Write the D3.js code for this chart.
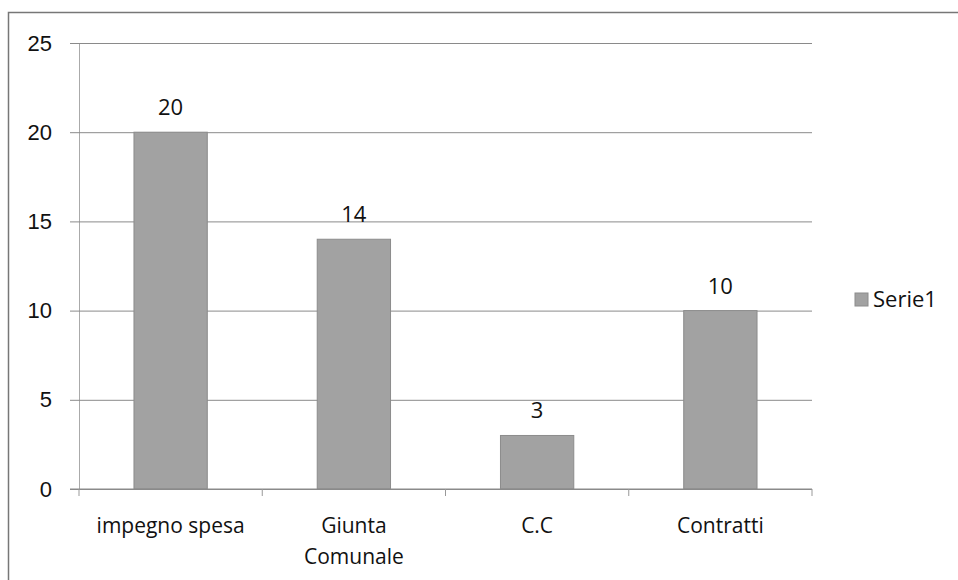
<!DOCTYPE html>
<html>
<head>
<meta charset="utf-8">
<script src="https://cdn.jsdelivr.net/npm/d3@7"></script>
<style>
  body { margin: 0; background: #fff; }
  svg { font-family: "Open Sans", "DejaVu Sans", sans-serif; }
</style>
</head>
<body>
<div id="chartContainer"></div>
<script>
// data
var categories = [["impegno spesa"], ["Giunta", "Comunale"], ["C.C"], ["Contratti"]];
var serie1 = [20, 14, 3, 10];
var yTicks = [0, 5, 10, 15, 20, 25];
var seriesName = "Serie1";

var WIDTH = 958, HEIGHT = 580,
  MARGINS = { top: 43, right: 146, bottom: 91, left: 79 };

var svg = d3.select("#chartContainer").append("svg")
  .attr("width", WIDTH)
  .attr("height", HEIGHT);

// outer frame of the chart
svg.append("rect")
  .attr("x", 8.5).attr("y", 12.5)
  .attr("width", 960).attr("height", 600)
  .attr("fill", "none")
  .attr("stroke", "#777")
  .attr("stroke-width", 1.5);

var keys = categories.map(function (d) { return d.join(" "); });

var xRange = d3.scaleBand()
  .domain(keys)
  .range([MARGINS.left, WIDTH - MARGINS.right])
  .paddingInner(0.6)
  .paddingOuter(0.3);

var yRange = d3.scaleLinear()
  .domain([0, 25])
  .range([HEIGHT - MARGINS.bottom, MARGINS.top]);

// horizontal gridlines with small left ticks
var yAxis = d3.axisLeft(yRange)
  .tickValues(yTicks)
  .tickSize(-(WIDTH - MARGINS.right - MARGINS.left))
  .tickSizeOuter(0)
  .tickPadding(27);

var gy = svg.append("g")
  .attr("transform", "translate(" + MARGINS.left + ",0)")
  .call(yAxis);
gy.select(".domain").attr("stroke", "#aaa");
gy.selectAll(".tick line")
  .attr("x1", -9)
  .attr("stroke", "#8a8a8a")
  .attr("stroke-width", 1);
gy.selectAll(".tick text")
  .attr("fill", "#111")
  .style("font-size", "22px");

// bars
svg.selectAll("rect.bar")
  .data(serie1)
  .enter().append("rect")
  .attr("class", "bar")
  .attr("x", function (d, i) { return xRange(keys[i]); })
  .attr("y", function (d) { return yRange(d); })
  .attr("width", xRange.bandwidth())
  .attr("height", function (d) { return yRange(0) - yRange(d); })
  .attr("fill", "#a2a2a2")
  .attr("stroke", "#8c8c8c")
  .attr("stroke-width", 1);

// value labels
svg.selectAll("text.val")
  .data(serie1)
  .enter().append("text")
  .attr("class", "val")
  .attr("x", function (d, i) { return xRange(keys[i]) + xRange.bandwidth() / 2; })
  .attr("y", function (d) { return yRange(d) - 17; })
  .attr("text-anchor", "middle")
  .style("font-size", "22px")
  .attr("fill", "#111")
  .text(function (d) { return d; });

// x axis with category ticks between groups
var xAxisLine = svg.append("g").attr("transform", "translate(0," + yRange(0) + ")");
xAxisLine.append("line")
  .attr("x1", MARGINS.left - 9).attr("x2", WIDTH - MARGINS.right)
  .attr("stroke", "#8a8a8a");
xAxisLine.selectAll("line.ct")
  .data(d3.range(categories.length + 1))
  .enter().append("line")
  .attr("class", "ct")
  .attr("x1", function (i) { return MARGINS.left + i * (WIDTH - MARGINS.right - MARGINS.left) / categories.length; })
  .attr("x2", function (i) { return MARGINS.left + i * (WIDTH - MARGINS.right - MARGINS.left) / categories.length; })
  .attr("y1", 0).attr("y2", 7)
  .attr("stroke", "#999");

var cl = svg.selectAll("text.cat")
  .data(categories)
  .enter().append("text")
  .attr("class", "cat")
  .attr("text-anchor", "middle")
  .style("font-size", "21px")
  .attr("fill", "#111");
cl.selectAll("tspan")
  .data(function (d, i) { return d.map(function (t) { return { t: t, i: i }; }); })
  .enter().append("tspan")
  .attr("x", function (d) { return xRange(keys[d.i]) + xRange.bandwidth() / 2; })
  .attr("y", function (d, j) { return yRange(0) + 44 + j * 31; })
  .text(function (d) { return d.t; });

// legend
svg.append("rect")
  .attr("x", 855).attr("y", 293)
  .attr("width", 13).attr("height", 13)
  .attr("fill", "#a2a2a2")
  .attr("stroke", "#8c8c8c");
svg.append("text")
  .attr("x", 873).attr("y", 307)
  .style("font-size", "22px")
  .attr("fill", "#111")
  .text(seriesName);
</script>
</body>
</html>
